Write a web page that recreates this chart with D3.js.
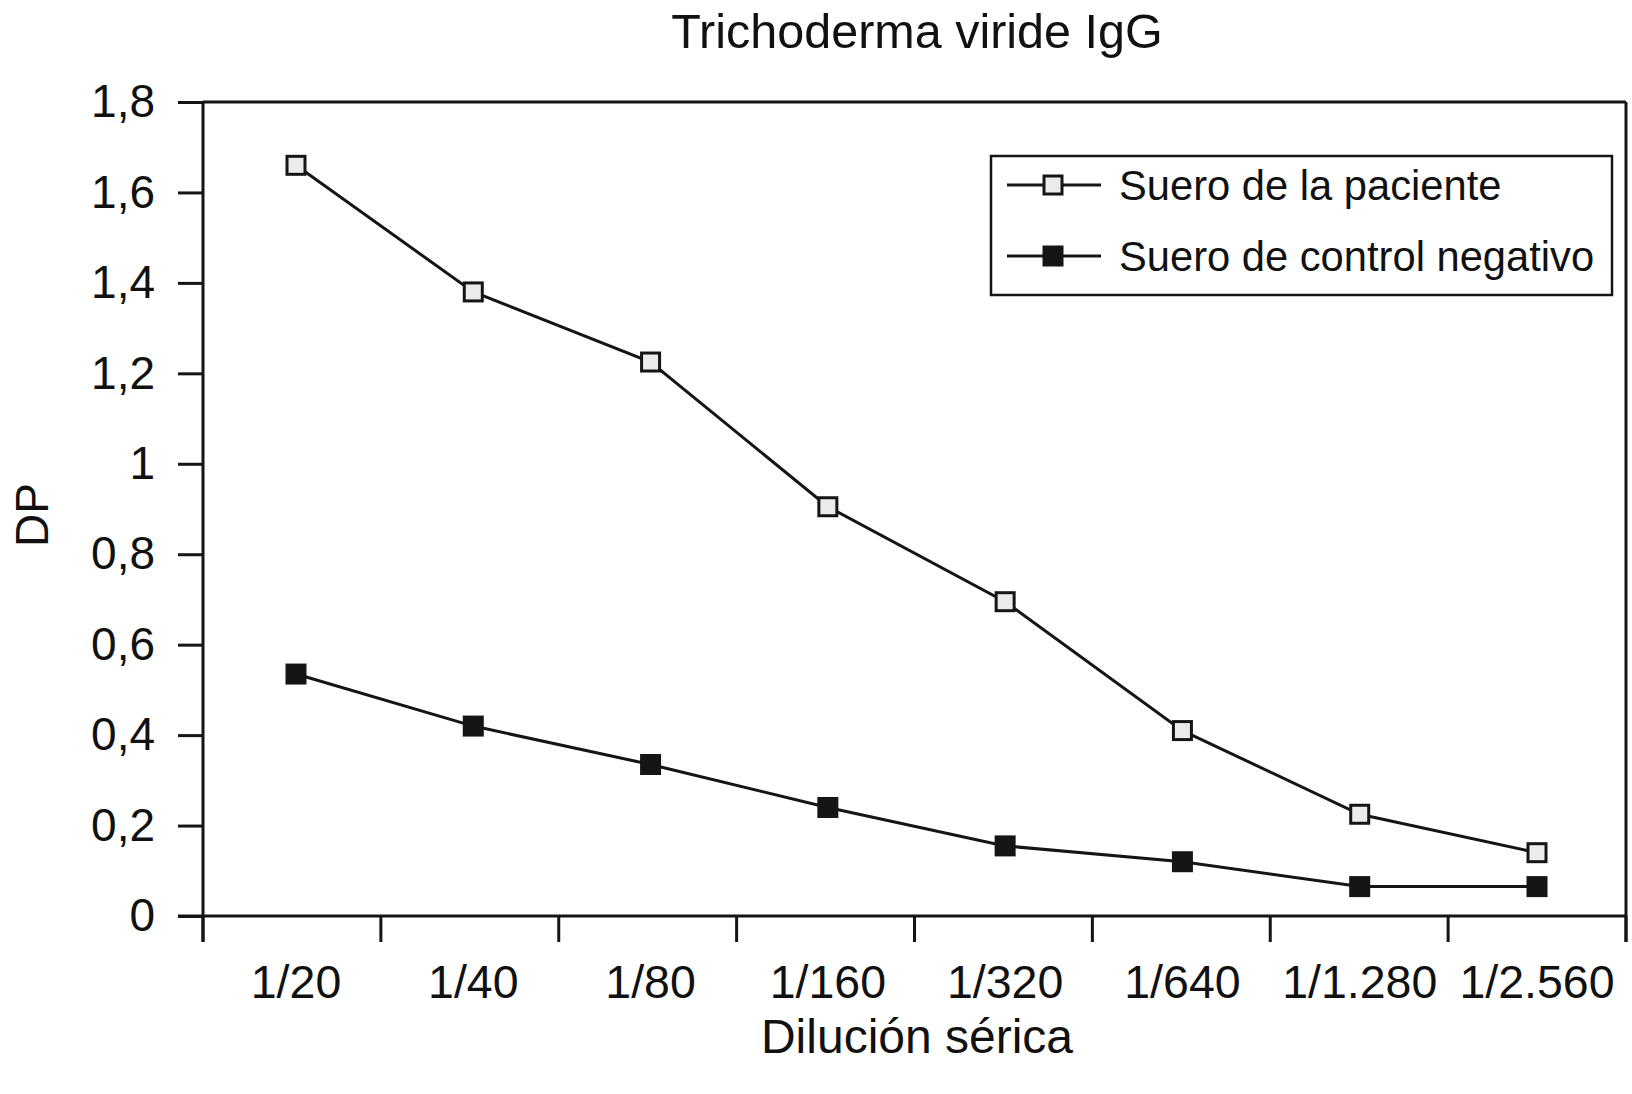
<!DOCTYPE html>
<html>
<head>
<meta charset="utf-8">
<script src="https://cdn.jsdelivr.net/npm/d3@7"></script>
<style>
  html, body { margin: 0; padding: 0; background: #fff; }
  svg { display: block; }
  text { font-family: "Liberation Sans", Arial, Helvetica, sans-serif; fill: #111; }
</style>
</head>
<body>
<svg id="chart" width="1632" height="1094"></svg>
<script>
const categories = ["1/20", "1/40", "1/80", "1/160", "1/320", "1/640", "1/1.280", "1/2.560"];
const patientValues = [1.66, 1.38, 1.225, 0.905, 0.695, 0.41, 0.225, 0.14];
const controlValues = [0.535, 0.42, 0.335, 0.24, 0.155, 0.12, 0.065, 0.065];
const yTicks = [0, 0.2, 0.4, 0.6, 0.8, 1, 1.2, 1.4, 1.6, 1.8];
const seriesNames = ["Suero de la paciente", "Suero de control negativo"];
const titleText = "Trichoderma viride IgG";
const xTitle = "Dilución sérica";
const yTitle = "DP";

(function () {
const ink = "#151515";
const svg = d3.select("#chart");

const mLeft = 203, mRight = 1626, mTop = 102, mBottom = 916;
const xBand = d3.scaleBand().domain(categories).range([mLeft, mRight]);
const xPoint = d3.scalePoint().domain(categories).range([296, 1537]);
const y = d3.scaleLinear().domain([0, 1.8]).range([mBottom, mTop]);

// Title
svg.append("text").attr("x", 917).attr("y", 48).attr("text-anchor", "middle")
  .attr("font-size", 48.5).text(titleText);

// Frame: top and right
svg.append("line").attr("x1", mLeft).attr("x2", mRight).attr("y1", y(1.8)).attr("y2", y(1.8))
  .attr("stroke", ink).attr("stroke-width", 3);
svg.append("line").attr("x1", mRight).attr("x2", mRight).attr("y1", y(1.8)).attr("y2", mBottom + 26)
  .attr("stroke", ink).attr("stroke-width", 3);

// Y axis
const yAxis = d3.axisLeft(y).tickValues(yTicks).tickSize(25).tickPadding(23)
  .tickFormat(d => String(d).replace(".", ","));
const gy = svg.append("g").attr("transform", `translate(${mLeft},0)`).call(yAxis);
gy.select(".domain").remove();
gy.selectAll(".tick line").attr("stroke", ink).attr("stroke-width", 3);
gy.selectAll(".tick text").attr("font-size", 46).attr("fill", ink)
  .attr("font-family", "'Liberation Sans', Arial, sans-serif");
svg.append("line").attr("x1", mLeft).attr("x2", mLeft).attr("y1", mTop).attr("y2", mBottom + 26)
  .attr("stroke", ink).attr("stroke-width", 3);

// X axis
svg.append("line").attr("x1", mLeft - 25).attr("x2", mRight).attr("y1", mBottom).attr("y2", mBottom)
  .attr("stroke", ink).attr("stroke-width", 3);
const tickPositions = categories.map(c => xBand(c)).concat([xBand.range()[1]]);
svg.selectAll(".xtick").data(tickPositions).enter().append("line")
  .attr("x1", d => d).attr("x2", d => d).attr("y1", mBottom).attr("y2", mBottom + 26)
  .attr("stroke", ink).attr("stroke-width", 3);
svg.selectAll(".xlab").data(categories).enter().append("text")
  .attr("x", d => xPoint(d)).attr("y", 998).attr("text-anchor", "middle")
  .attr("font-size", 46.5).text(d => d);

// Axis titles
svg.append("text").attr("x", 917).attr("y", 1053).attr("text-anchor", "middle")
  .attr("font-size", 48).text(xTitle);
svg.append("text").attr("transform", "translate(48,515) rotate(-90)").attr("text-anchor", "middle")
  .attr("font-size", 46).text(yTitle);

// Lines
const line = d3.line().x((d, i) => xPoint(categories[i])).y(d => y(d));
const series = [
  { name: seriesNames[0], values: patientValues, fill: "#ebebeb" },
  { name: seriesNames[1], values: controlValues, fill: ink }
];
series.forEach(s => {
  svg.append("path").datum(s.values).attr("d", line).attr("fill", "none")
    .attr("stroke", ink).attr("stroke-width", 3);
  svg.selectAll(null).data(s.values).enter().append("rect")
    .attr("x", (d, i) => xPoint(categories[i]) - 9).attr("y", d => y(d) - 9)
    .attr("width", 18).attr("height", 18)
    .attr("fill", s.fill).attr("stroke", ink).attr("stroke-width", 3);
});

// Legend
const lg = svg.append("g");
lg.append("rect").attr("x", 991).attr("y", 156).attr("width", 621).attr("height", 139)
  .attr("fill", "#fff").attr("stroke", ink).attr("stroke-width", 2.5);
series.forEach((s, i) => {
  const cy = 185 + i * 71;
  lg.append("line").attr("x1", 1007).attr("x2", 1101).attr("y1", cy).attr("y2", cy)
    .attr("stroke", ink).attr("stroke-width", 3);
  lg.append("rect").attr("x", 1053 - 9).attr("y", cy - 9).attr("width", 18).attr("height", 18)
    .attr("fill", s.fill).attr("stroke", ink).attr("stroke-width", 3);
  lg.append("text").attr("x", 1119).attr("y", cy + 15).attr("font-size", 41.7).text(s.name);
});
})();
</script>
</body>
</html>
